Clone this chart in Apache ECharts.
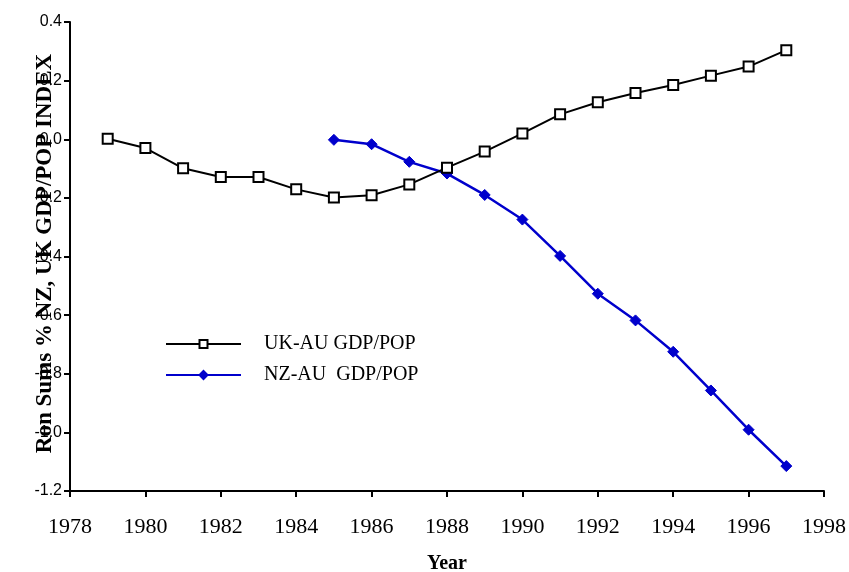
<!DOCTYPE html>
<html>
<head>
<meta charset="utf-8">
<script src="https://cdn.jsdelivr.net/npm/echarts@6/dist/echarts.min.js"></script>
<style>
  html, body { margin: 0; padding: 0; background: #fff; }
  #chart { width: 849px; height: 572px; }
</style>
</head>
<body>
<div id="chart"></div>
<script>
// years on the x axis
const ukYears = [1979, 1980, 1981, 1982, 1983, 1984, 1985, 1986, 1987, 1988,
  1989, 1990, 1991, 1992, 1993, 1994, 1995, 1996, 1997]
const ukValues = [0.002, -0.030, -0.099, -0.129, -0.129, -0.171, -0.199, -0.191, -0.154, -0.097,
  -0.042, 0.020, 0.085, 0.126, 0.158, 0.185, 0.217, 0.248, 0.304]

const nzYears = [1985, 1986, 1987, 1988, 1989, 1990, 1991, 1992, 1993, 1994, 1995, 1996, 1997]
const nzValues = [-0.002, -0.017, -0.077, -0.117, -0.190, -0.274, -0.398, -0.527, -0.618,
  -0.725, -0.857, -0.991, -1.115]

const seriesNames = ['UK-AU GDP/POP', 'NZ-AU  GDP/POP']

const chart = echarts.init(document.getElementById('chart'))

const serif = '"Liberation Serif", "DejaVu Serif", serif'
const sans = '"Liberation Sans", Arial, sans-serif'

const option = {
  animation: false,
  backgroundColor: '#fff',
  grid: {
    left: 70,
    right: 25,
    top: 22,
    bottom: 81,
    containLabel: false,
    outerBoundsMode: 'none'
  },
  legend: {
    orient: 'vertical',
    left: 165,
    top: 334,
    padding: 0,
    itemWidth: 75,
    itemHeight: 10,
    itemGap: 11,
    textStyle: {
      fontFamily: serif,
      fontSize: 20,
      color: '#000',
      padding: [0, 0, 0, 18]
    },
    data: seriesNames
  },
  xAxis: {
    type: 'value',
    min: 1978,
    max: 1998,
    interval: 2,
    name: 'Year',
    nameLocation: 'middle',
    nameGap: 63,
    nameMoveOverlap: false,
    nameTextStyle: {
      fontFamily: serif,
      fontSize: 20,
      fontWeight: 'bold',
      color: '#000'
    },
    splitLine: { show: false },
    axisLine: { onZero: false, lineStyle: { color: '#000', width: 2 } },
    axisTick: { show: true, length: 6, lineStyle: { color: '#000', width: 2 } },
    axisLabel: {
      fontFamily: serif,
      fontSize: 22,
      color: '#000',
      margin: 25,
      formatter: (v) => String(v)
    }
  },
  yAxis: {
    type: 'value',
    min: -1.2,
    max: 0.4,
    interval: 0.2,
    name: 'Ron Sums % NZ, UK GDP/POP INDEX',
    nameLocation: 'middle',
    nameGap: 13,
    nameRotate: 90,
    nameMoveOverlap: false,
    nameTextStyle: {
      fontFamily: serif,
      fontSize: 23,
      fontWeight: 'bold',
      color: '#000',
      padding: [0, 0, 0, 6]
    },
    splitLine: { show: false },
    axisLine: { show: true, lineStyle: { color: '#000', width: 2 } },
    axisTick: { show: true, length: 6, lineStyle: { color: '#000', width: 2 } },
    axisLabel: {
      fontFamily: sans,
      fontSize: 16,
      color: '#000',
      margin: 8,
      formatter: (v) => {
        const s = (Math.round(v * 10) / 10).toFixed(1)
        return s === '-0.0' ? '0.0' : s
      }
    }
  },
  series: [
    {
      name: seriesNames[0],
      type: 'line',
      data: ukYears.map((y, i) => [y, ukValues[i]]),
      symbol: 'rect',
      symbolSize: 10,
      showAllSymbol: true,
      lineStyle: { color: '#000', width: 2 },
      itemStyle: { color: '#fff', borderColor: '#000', borderWidth: 2 },
      z: 3
    },
    {
      name: seriesNames[1],
      type: 'line',
      data: nzYears.map((y, i) => [y, nzValues[i]]),
      symbol: 'diamond',
      symbolSize: 11,
      showAllSymbol: true,
      lineStyle: { color: '#0000CC', width: 2.5 },
      itemStyle: { color: '#0000CC', borderColor: '#0000CC', borderWidth: 1 },
      z: 2
    }
  ]
}

chart.setOption(option)
</script>
</body>
</html>
